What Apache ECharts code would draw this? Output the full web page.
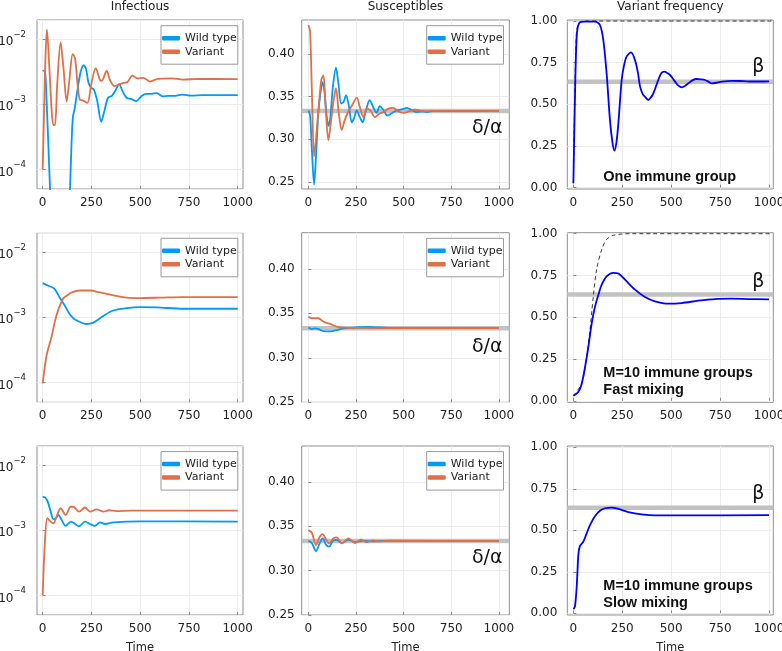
<!DOCTYPE html>
<html><head><meta charset="utf-8">
<script src="https://cdn.jsdelivr.net/npm/echarts@6/dist/echarts.min.js"></script>
<style>html,body{margin:0;padding:0;background:#fff}#c{width:782px;height:651px}</style>
</head><body><div id="c"></div>
<script>
// ---------- ticks / labels ----------
const xTicks = [0, 250, 500, 750, 1000];
const suscTicks = [0.25, 0.30, 0.35, 0.40];
const freqTicks = [0, 0.25, 0.5, 0.75, 1];
const colTitles = ['Infectious', 'Susceptibles', 'Variant frequency'];
const seriesNames = ['Wild type', 'Variant'];
const xName = 'Time';
const deltaOverAlpha = 0.3333;
const betaLevel = 0.636;
const refLabels = ['δ/α', 'β'];
const panelNotes = [['One immune group'], ['M=10 immune groups', 'Fast mixing'], ['M=10 immune groups', 'Slow mixing']];

// ---------- Row 1: one immune group ----------
const inf1WildT = [0,12,20,29,38,50,80,110,130,140,148,155,165,180,195,210,222,235,250,262,280,300,315,335,355,375,392,410,430,455,480,505,530,560,585,615,645,680,715,760,820,900,1000];
const inf1Wild  = [3.3e-3,3.2e-3,1.17e-3,2.5e-4,5.0e-5,1.2e-5,3e-6,4e-6,1.5e-5,5.0e-5,2.5e-4,6.3e-4,8.9e-4,1.78e-3,3.16e-3,3.98e-3,3.55e-3,2.14e-3,1.78e-3,1.7e-3,1.12e-3,5.4e-4,7.6e-4,1.26e-3,1.35e-3,1.66e-3,2.04e-3,1.58e-3,1.26e-3,1.2e-3,1.12e-3,1.32e-3,1.45e-3,1.45e-3,1.48e-3,1.32e-3,1.35e-3,1.35e-3,1.41e-3,1.36e-3,1.38e-3,1.38e-3,1.38e-3];
const inf1VarT = [0,8,15,22,34,46,55,63,75,92,106,123,137,154,166,180,191,205,229,250,272,294,303,328,345,368,390,414,435,460,485,516,550,590,660,720,800,1000];
const inf1Var  = [1.0e-4,1.0e-3,6.0e-3,1.4e-2,3.8e-3,8.1e-4,4.8e-4,4.8e-4,2.1e-3,8.9e-3,3.8e-3,1.1e-3,2.36e-3,5.9e-3,5.1e-3,1.87e-3,1.17e-3,1.15e-3,1.05e-3,2.1e-3,3.6e-3,2.36e-3,2.3e-3,3.25e-3,2.36e-3,1.9e-3,2.0e-3,2.14e-3,2.2e-3,2.75e-3,2.5e-3,2.55e-3,2.24e-3,2.45e-3,2.5e-3,2.4e-3,2.45e-3,2.43e-3];
const sus1WildT = [0,9,18,30,40,52,62,75,85,95,105,115,128,145,158,172,185,198,212,228,240,254,270,285,300,322,340,358,375,392,415,440,465,495,517,545,570,600,622,660,700,1000];
const sus1Wild  = [0.334,0.328,0.29,0.247,0.28,0.33,0.352,0.367,0.355,0.33,0.316,0.325,0.36,0.384,0.365,0.342,0.344,0.352,0.34,0.320,0.325,0.334,0.326,0.320,0.332,0.346,0.338,0.331,0.339,0.335,0.328,0.331,0.334,0.3355,0.337,0.334,0.332,0.333,0.332,0.3335,0.3333,0.3333];
const sus1VarT = [0,9,18,30,40,55,68,79,90,105,118,132,145,160,175,190,210,230,254,270,289,306,325,350,372,395,420,446,470,500,530,560,600,650,1000];
const sus1Var  = [0.434,0.427,0.36,0.280,0.30,0.34,0.370,0.375,0.34,0.299,0.32,0.345,0.360,0.33,0.311,0.322,0.333,0.340,0.349,0.338,0.326,0.336,0.334,0.326,0.330,0.332,0.336,0.337,0.333,0.331,0.333,0.335,0.333,0.3335,0.3333];
const freq1T = [0,8,17,29,60,111,136,153,170,187,200,210,220,230,247,260,272,295,315,330,341,355,366,383,395,405,420,434,450,465,480,494,508,520,537,554,570,588,610,630,650,673,690,707,724,760,809,850,900,960,1000];
const freq1  = [0.026,0.53,0.906,0.986,0.996,0.996,0.976,0.886,0.686,0.406,0.27,0.222,0.27,0.386,0.646,0.74,0.786,0.812,0.766,0.69,0.606,0.56,0.546,0.526,0.54,0.556,0.6,0.646,0.688,0.696,0.688,0.676,0.655,0.636,0.612,0.602,0.61,0.626,0.645,0.652,0.65,0.646,0.636,0.626,0.628,0.636,0.641,0.64,0.637,0.637,0.638];
const freq1DashT = [0,8,15,25,40,60,1020];
const freq1Dash  = [0.026,0.6,0.92,0.985,0.998,1.0,1.0];

// ---------- Row 2: M=10, fast mixing ----------
const inf2WildT = [0,29,60,89,115,140,160,183,222,260,311,362,431,499,585,721,850,1000];
const inf2Wild  = [3.34e-3,3.04e-3,2.74e-3,1.97e-3,1.48e-3,1.1e-3,9.5e-4,8.7e-4,7.9e-4,8.3e-4,1.05e-3,1.27e-3,1.38e-3,1.43e-3,1.42e-3,1.35e-3,1.35e-3,1.35e-3];
const inf2VarT = [0,20,46,63,80,106,123,149,191,243,294,362,431,499,602,721,850,1000];
const inf2Var  = [9.7e-5,2.6e-4,5.1e-4,8.7e-4,1.3e-3,1.95e-3,2.14e-3,2.4e-3,2.57e-3,2.57e-3,2.4e-3,2.16e-3,2.0e-3,1.97e-3,2.0e-3,2.04e-3,2.04e-3,2.04e-3];
const sus2WildT = [0,18,35,53,79,114,149,184,236,306,376,450,600,1000];
const sus2Wild  = [0.334,0.3323,0.3330,0.3323,0.3300,0.3297,0.331,0.333,0.3338,0.3346,0.3340,0.3334,0.3333,0.3333];
const sus2VarT = [0,18,53,79,114,149,184,271,400,1000];
const sus2Var  = [0.346,0.3444,0.3444,0.3406,0.338,0.335,0.3338,0.3335,0.3333,0.3333];
const freq2T = [0,26,43,60,77,94,111,128,145,170,204,230,264,315,366,417,486,554,639,724,809,894,1000];
const freq2  = [0.03,0.054,0.104,0.204,0.325,0.465,0.565,0.635,0.695,0.745,0.766,0.762,0.725,0.665,0.621,0.595,0.581,0.585,0.599,0.609,0.611,0.609,0.607];
const freq2DashT = [0,43,68,85,102,119,145,170,204,247,300,1020];
const freq2Dash  = [0.03,0.104,0.265,0.425,0.625,0.786,0.906,0.966,0.99,0.998,1.0,1.0];

// ---------- Row 3: M=10, slow mixing ----------
const inf3WildT = [0,12,26,41,55,67,80,97,118,145,166,186,217,243,268,294,320,362,431,500,1000];
const inf3Wild  = [3.27e-3,3.2e-3,2.75e-3,1.95e-3,1.48e-3,1.52e-3,1.72e-3,1.45e-3,1.17e-3,1.36e-3,1.25e-3,1.15e-3,1.36e-3,1.25e-3,1.17e-3,1.32e-3,1.25e-3,1.32e-3,1.36e-3,1.37e-3,1.36e-3];
const inf3VarT = [0,12,24,41,55,72,92,118,144,157,186,217,243,277,311,340,380,450,1000];
const inf3Var  = [1.0e-4,7.0e-4,1.53e-3,1.36e-3,1.28e-3,1.65e-3,2.18e-3,1.72e-3,2.3e-3,2.3e-3,1.93e-3,2.24e-3,1.93e-3,2.1e-3,1.93e-3,2.03e-3,1.97e-3,2.0e-3,2.0e-3];
const sus3WildT = [0,18,40,58,75,93,109,131,149,175,210,245,289,340,400,1000];
const sus3Wild  = [0.3336,0.331,0.322,0.330,0.3363,0.329,0.327,0.334,0.3345,0.331,0.3345,0.332,0.3337,0.3328,0.3335,0.3333];
const sus3VarT = [0,18,40,58,75,93,109,131,149,175,210,245,275,306,340,370,420,1000];
const sus3Var  = [0.3456,0.3426,0.3288,0.3375,0.3411,0.3351,0.3306,0.3363,0.3374,0.3306,0.3363,0.331,0.3348,0.332,0.3341,0.3328,0.3336,0.3333];
const freq3T = [0,8,17,26,34,51,68,85,111,136,162,196,230,281,349,417,554,1000];
const freq3  = [0.026,0.04,0.16,0.36,0.406,0.432,0.482,0.532,0.586,0.618,0.633,0.637,0.629,0.610,0.596,0.590,0.590,0.592];

// ---------- build ----------
const zip = (t, v) => t.map((x, i) => [x, v[i]]);
const C_WILD = '#009afa', C_VAR = '#e26f46', C_FREQ = '#0000ff', C_REF = '#c2c2c2';
const FONT = 'DejaVu Sans';
const colLeft = [37, 301.7, 567.3], colWidth = [206, 207.6, 206];
const rowTop = [20, 232.7, 446], rowHeight = [169, 169.6, 169];
const xRange = [[-29, 1027], [-35, 1055], [-31, 1022]];
const yRange = [
  [[5.0e-5, 0.0197], [0.2418, 0.4400], [-0.008, 1.006]],
  [[5.0e-5, 0.0197], [0.25, 0.4405], [-0.009, 1.006]],
  [[5.0e-5, 0.0197], [0.25, 0.4403], [-0.010, 1.008]]
];
const infData = [[inf1WildT, inf1Wild, inf1VarT, inf1Var], [inf2WildT, inf2Wild, inf2VarT, inf2Var], [inf3WildT, inf3Wild, inf3VarT, inf3Var]];
const susData = [[sus1WildT, sus1Wild, sus1VarT, sus1Var], [sus2WildT, sus2Wild, sus2VarT, sus2Var], [sus3WildT, sus3Wild, sus3VarT, sus3Var]];
const freqData = [[freq1T, freq1, freq1DashT, freq1Dash], [freq2T, freq2, freq2DashT, freq2Dash], [freq3T, freq3, null, null]];

const grid = [], xAxis = [], yAxis = [], series = [], legend = [], graphic = [];
const tickStyle = { show: true, inside: true, length: 3, lineStyle: { color: '#8a8a8a', width: 1 } };
const splitStyle = { show: true, lineStyle: { color: '#ececec', width: 1 } };
const labelBase = { color: '#222', fontFamily: FONT, fontSize: 12 };

for (let r = 0; r < 3; r++) {
  for (let c = 0; c < 3; c++) {
    const gi = r * 3 + c;
    grid.push({ left: colLeft[c], top: rowTop[r], width: colWidth[c], height: rowHeight[r],
      show: true, borderColor: '#8f8f8f', borderWidth: 1, backgroundColor: '#fff', containLabel: false, outerBoundsMode: 'none' });
    xAxis.push({ type: 'value', gridIndex: gi, min: xRange[c][0], max: xRange[c][1],
      axisLine: { show: false },
      axisTick: Object.assign({ customValues: xTicks }, tickStyle),
      axisLabel: Object.assign({ customValues: xTicks, margin: 8, formatter: v => String(v) }, labelBase),
      splitLine: splitStyle,
      name: r === 2 ? xName : '', nameLocation: 'middle', nameGap: 27,
      nameTextStyle: { fontFamily: FONT, fontSize: 11.5, color: '#222' } });
    const yr = yRange[r][c];
    if (c === 0) {
      yAxis.push({ type: 'log', logBase: 10, gridIndex: gi, min: yr[0], max: yr[1],
        axisLine: { show: false }, axisTick: tickStyle, splitLine: splitStyle,
        axisLabel: { margin: 11, showMinLabel: false, showMaxLabel: false,
          formatter: v => { const e = Math.log10(v); const k = Math.round(e);
            if (Math.abs(e - k) > 0.01) return ''; return '{b|10}{s|' + (k < 0 ? '−' : '') + Math.abs(k) + '}'; },
          rich: { b: { fontFamily: FONT, fontSize: 12, color: '#222', lineHeight: 18, verticalAlign: 'bottom' },
                  s: { fontFamily: FONT, fontSize: 8.5, color: '#222', lineHeight: 10, verticalAlign: 'top' } } } });
    } else {
      const ticks = c === 1 ? suscTicks : freqTicks;
      yAxis.push({ type: 'value', gridIndex: gi, min: yr[0], max: yr[1],
        axisLine: { show: false },
        axisTick: Object.assign({ customValues: ticks }, tickStyle),
        axisLabel: Object.assign({ customValues: ticks, margin: c === 1 ? 7 : 10, formatter: v => v.toFixed(2) }, labelBase),
        splitLine: splitStyle });
    }
    const base = { type: 'line', xAxisIndex: gi, yAxisIndex: gi, showSymbol: false, symbol: 'none', silent: true, animation: false };
    if (c === 0 || c === 1) {
      const d = c === 0 ? infData[r] : susData[r];
      if (c === 1) {
        series.push(Object.assign({}, base, { name: 'ref', data: [[xRange[c][0], deltaOverAlpha], [xRange[c][1], deltaOverAlpha]],
          lineStyle: { color: C_REF, width: 4.5 }, z: 1 }));
      }
      series.push(Object.assign({}, base, { name: seriesNames[0], data: zip(d[0], d[1]), smooth: 0.3,
        lineStyle: { color: C_WILD, width: 1.8 }, itemStyle: { color: C_WILD }, z: 2 }));
      series.push(Object.assign({}, base, { name: seriesNames[1], data: zip(d[2], d[3]), smooth: 0.3,
        lineStyle: { color: C_VAR, width: 1.8 }, itemStyle: { color: C_VAR }, z: 3 }));
      legend.push({ left: colLeft[c] + (c === 0 ? 124 : 125), top: rowTop[r] + (r === 0 ? 5.7 : 5.6),
        orient: 'vertical', selectedMode: false, data: seriesNames,
        icon: 'roundRect', itemWidth: 18, itemHeight: 4.5, itemGap: 0.5,
        padding: [6, 1, 6, 1], borderColor: '#9a9a9a', borderWidth: 1, borderRadius: 0, backgroundColor: '#fff',
        textStyle: { fontFamily: FONT, fontSize: 11, color: '#222', lineHeight: 13 } });
    } else {
      const d = freqData[r];
      series.push(Object.assign({}, base, { name: 'refb', data: [[xRange[c][0], betaLevel], [xRange[c][1], betaLevel]],
        lineStyle: { color: C_REF, width: 4.5 }, z: 1 }));
      if (d[2]) {
        series.push(Object.assign({}, base, { name: 'dash', data: zip(d[2], d[3]), smooth: 0.3,
          lineStyle: { color: '#222', width: 0.9, type: [4, 3] }, z: 2 }));
      }
      series.push(Object.assign({}, base, { name: 'freq', data: zip(d[0], d[1]), smooth: 0.3,
        lineStyle: { color: C_FREQ, width: 1.8 }, z: 3 }));
    }
  }
}

// titles
for (let c = 0; c < 3; c++) {
  graphic.push({ type: 'text', x: colLeft[c] + colWidth[c] / 2, y: 7, z: 100,
    style: { text: colTitles[c], fontFamily: FONT, fontSize: 12, fill: '#222', align: 'center', verticalAlign: 'middle' } });
}
// annotations
const daY = [128.3, 346.7, 558.3], bY = [66.7, 281.7, 494];
const noteY = [[176.7], [373.3, 390], [585.7, 602.7]];
for (let r = 0; r < 3; r++) {
  graphic.push({ type: 'text', x: 502.5, y: daY[r], z: 100,
    style: { text: refLabels[0], fontFamily: FONT, fontSize: 19, fill: '#111', align: 'right', verticalAlign: 'middle' } });
  graphic.push({ type: 'text', x: 758.3, y: bY[r], z: 100,
    style: { text: refLabels[1], fontFamily: FONT, fontSize: 19, fill: '#111', align: 'center', verticalAlign: 'middle' } });
  panelNotes[r].forEach((t, i) => graphic.push({ type: 'text', x: 603.3, y: noteY[r][i], z: 100,
    style: { text: t, fontFamily: 'Liberation Sans', fontWeight: 'bold', fontSize: 14.5, fill: '#111', align: 'left', verticalAlign: 'middle' } }));
}

const chart = echarts.init(document.getElementById('c'), null, { renderer: 'canvas' });
chart.setOption({ animation: false, backgroundColor: '#fff', grid, xAxis, yAxis, series, legend, graphic });
</script></body></html>
